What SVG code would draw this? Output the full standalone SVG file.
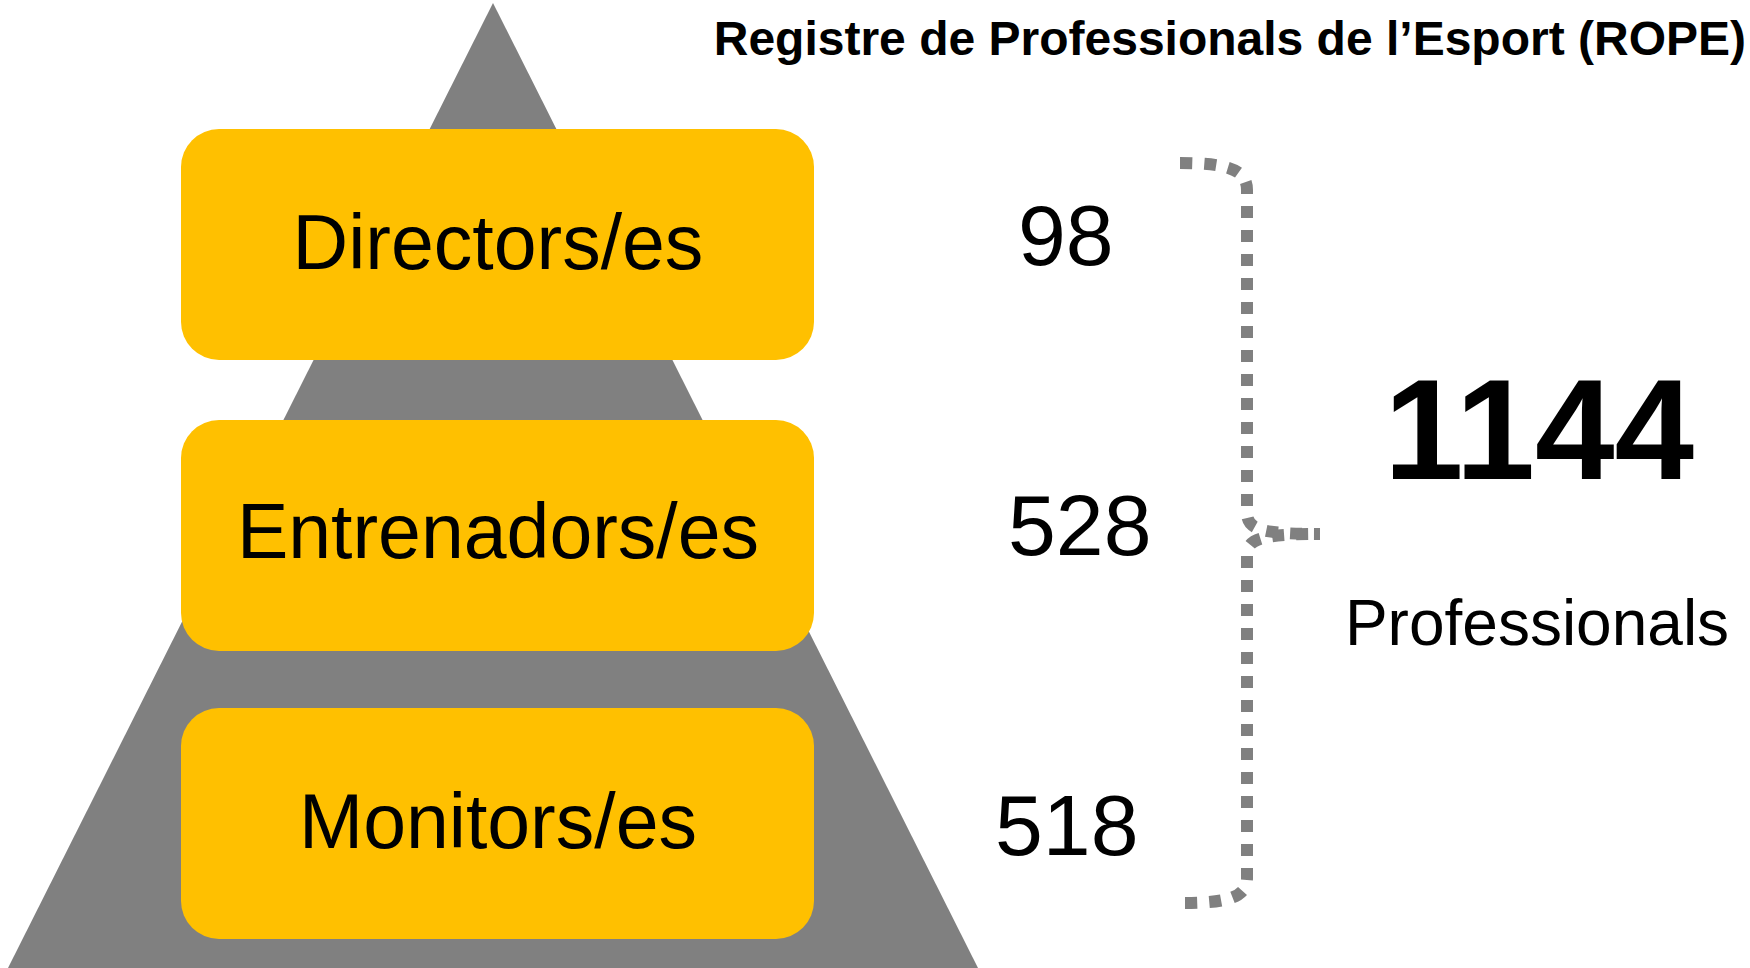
<svg xmlns="http://www.w3.org/2000/svg" width="1750" height="968" viewBox="0 0 1750 968">
<style>
.box{fill:#FFC000;}
.lbl{font-family:"Liberation Sans",Arial,sans-serif;font-size:77px;fill:#000;text-anchor:middle;}
.num{font-family:"Liberation Sans",Arial,sans-serif;font-size:86px;fill:#000;}
.br{fill:none;stroke:#808080;stroke-width:12;stroke-dasharray:12 12;}
</style>
<rect width="1750" height="968" fill="#fff"/>
<polygon id="pyramid" points="493,3 8,968 978,968" fill="#808080"/>
<text id="title" x="1746" y="55" text-anchor="end" font-family="Liberation Sans,Arial,sans-serif" font-weight="bold" font-size="48" fill="#000">Registre de Professionals de l’Esport (ROPE)</text>
<g id="directors">
<rect class="box" x="181" y="129" width="633" height="231" rx="38" ry="38"/>
<text class="lbl" x="498" y="269">Directors/es</text>
</g>
<g id="entrenadors">
<rect class="box" x="181" y="420" width="633" height="231" rx="38" ry="38"/>
<text class="lbl" x="498" y="558">Entrenadors/es</text>
</g>
<g id="monitors">
<rect class="box" x="181" y="708" width="633" height="231" rx="38" ry="38"/>
<text class="lbl" x="498" y="848">Monitors/es</text>
</g>
<g id="counts">
<text class="num" x="1018" y="265">98</text>
<text class="num" x="1008" y="555">528</text>
<text class="num" x="995" y="855">518</text>
</g>
<g id="connectors">
<path class="br" d="M1180,163 C1228,163 1247,170 1247,190 L1247,512 C1247,528 1256,534 1320,534"/>
<path class="br" d="M1185,903 C1230,903 1247,896 1247,878 L1247,556 C1247,540 1256,534 1320,534"/>
</g>
<g id="total">
<text x="1539" y="479" text-anchor="middle" font-family="Liberation Sans,Arial,sans-serif" font-weight="bold" font-size="143" fill="#000">1144</text>
<text x="1537" y="645" text-anchor="middle" font-family="Liberation Sans,Arial,sans-serif" font-size="64" fill="#000">Professionals</text>
</g>
</svg>
